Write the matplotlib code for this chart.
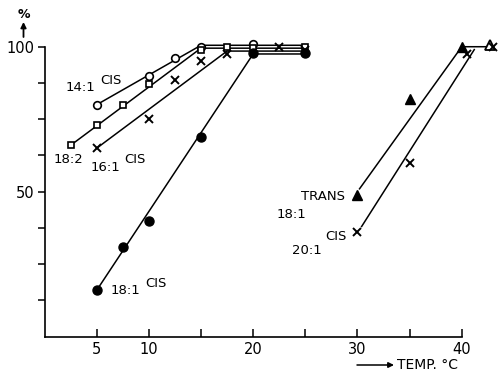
import numpy as np
import matplotlib.pyplot as plt

# data (% vs temperature, deg C)
x_14_1 = [5, 10, 12.5, 15, 20]
y_14_1 = [80, 90, 96, 100, 101]
x_18_2 = [2.5, 5, 7.5, 10, 15, 17.5, 20, 25]
y_18_2 = [66, 73, 80, 87, 99, 100, 99.5, 100]
x_16_1 = [5, 10, 12.5, 15, 17.5, 22.5, 25]
y_16_1 = [65, 75, 88.5, 95, 97.5, 100, 99]
x_18_1c = [5, 7.5, 10, 15, 20, 25]
y_18_1c = [16, 31, 40, 69, 98, 98]
x_18_1t = [30, 35, 40]
y_18_1t = [49, 82, 100]
x_end_open = [42.7]
y_end_open = [100.5]
x_20_1 = [30, 35, 40.5, 43]
y_20_1 = [36, 60, 97.5, 100]

# hand drawn lines
fit_14_1 = ([5, 15, 25], [80, 100.5, 100.5])
fit_18_2 = ([2.5, 15, 25], [66, 99.5, 99.5])
fit_16_1 = ([5, 17.5, 25], [65, 98.5, 98.5])
fit_18_1c = ([5, 20, 25], [16, 97.5, 97.5])
fit_18_1t = ([30.2, 40, 42.7], [51, 100, 100])
fit_20_1 = ([30.4, 41.2], [38, 99])

plt.rcParams['font.family'] = 'DejaVu Sans'
fig = plt.figure(figsize=(4.98, 3.75), dpi=100)
ax = fig.add_axes([0.0894, 0.1021, 0.8378, 0.7733])

for fx, fy in [fit_14_1, fit_18_2, fit_16_1, fit_18_1c, fit_18_1t, fit_20_1]:
    ax.plot(fx, fy, color='k', lw=1.1, clip_on=False, zorder=2)

kw = dict(ls='none', color='k', clip_on=False, zorder=3)
ax.plot(x_14_1, y_14_1, marker='o', ms=5.5, mfc='white', mew=1.2, **kw)
ax.plot(x_18_2, y_18_2, marker='s', ms=5, mfc='white', mew=1.2, **kw)
ax.plot(x_16_1, y_16_1, marker='x', ms=5.5, mew=1.4, **kw)
ax.plot(x_18_1c, y_18_1c, marker='o', ms=6.5, **kw)
ax.plot(x_18_1t, y_18_1t, marker='^', ms=7, **kw)
ax.plot(x_end_open, y_end_open, marker='^', ms=6.5, mfc='white', mew=1.3, **kw)
ax.plot(x_20_1, y_20_1, marker='x', ms=5.5, mew=1.4, **kw)

ax.set_xlim(0, 40)
ax.set_ylim(0, 100)
ax.spines['top'].set_visible(False)
ax.spines['right'].set_visible(False)
ax.spines['left'].set_linewidth(1.2)
ax.spines['bottom'].set_linewidth(1.2)

ax.set_xticks([5, 10, 15, 20, 25, 30, 35, 40])
ax.set_xticklabels(['5', '10', '', '20', '', '30', '', '40'])
ax.set_yticks([12.5, 25, 37.5, 50, 62.5, 75, 87.5, 100])
ax.set_yticklabels(['', '', '', '50', '', '', '', '100'])
ax.tick_params(axis='x', direction='in', length=5.5, width=1.1, pad=4, labelsize=10.5)
ax.tick_params(axis='y', direction='out', length=5, width=1.1, pad=2.5, labelsize=10.5)

fs = 9.5
ax.text(3.45, 85.8, '14:1', fontsize=fs, ha='center', va='center')
ax.text(6.38, 88.5, 'CIS', fontsize=fs, ha='center', va='center')
ax.text(2.25, 61.1, '18:2', fontsize=fs, ha='center', va='center')
ax.text(5.85, 58.3, '16:1', fontsize=fs, ha='center', va='center')
ax.text(8.63, 61.1, 'CIS', fontsize=fs, ha='center', va='center')
ax.text(7.72, 15.8, '18:1', fontsize=fs, ha='center', va='center')
ax.text(10.69, 18.3, 'CIS', fontsize=fs, ha='center', va='center')
ax.text(26.7, 48.5, 'TRANS', fontsize=fs, ha='center', va='center')
ax.text(23.68, 42.3, '18:1', fontsize=fs, ha='center', va='center')
ax.text(27.9, 34.4, 'CIS', fontsize=fs, ha='center', va='center')
ax.text(25.17, 29.6, '20:1', fontsize=fs, ha='center', va='center')

# axis captions with arrows
fig.text(24 / 498, 1 - 15 / 375, '%', fontsize=9, ha='center', va='center', weight='bold')
ax.annotate('', xy=(23.5 / 498, 1 - 22 / 375), xytext=(23.5 / 498, 1 - 37 / 375),
            xycoords='figure fraction', textcoords='figure fraction',
            arrowprops=dict(arrowstyle='-|>', color='k', lw=1.3, mutation_scale=8,
                            shrinkA=0, shrinkB=0))
ax.annotate('', xy=(394 / 498, 1 - 365 / 375), xytext=(357 / 498, 1 - 365 / 375),
            xycoords='figure fraction', textcoords='figure fraction',
            arrowprops=dict(arrowstyle='-|>', color='k', lw=1.1, mutation_scale=8,
                            shrinkA=0, shrinkB=0))
fig.text(397 / 498, 1 - 365 / 375, 'TEMP. °C', fontsize=10, ha='left', va='center')

fig.savefig('out.png', dpi=100)
